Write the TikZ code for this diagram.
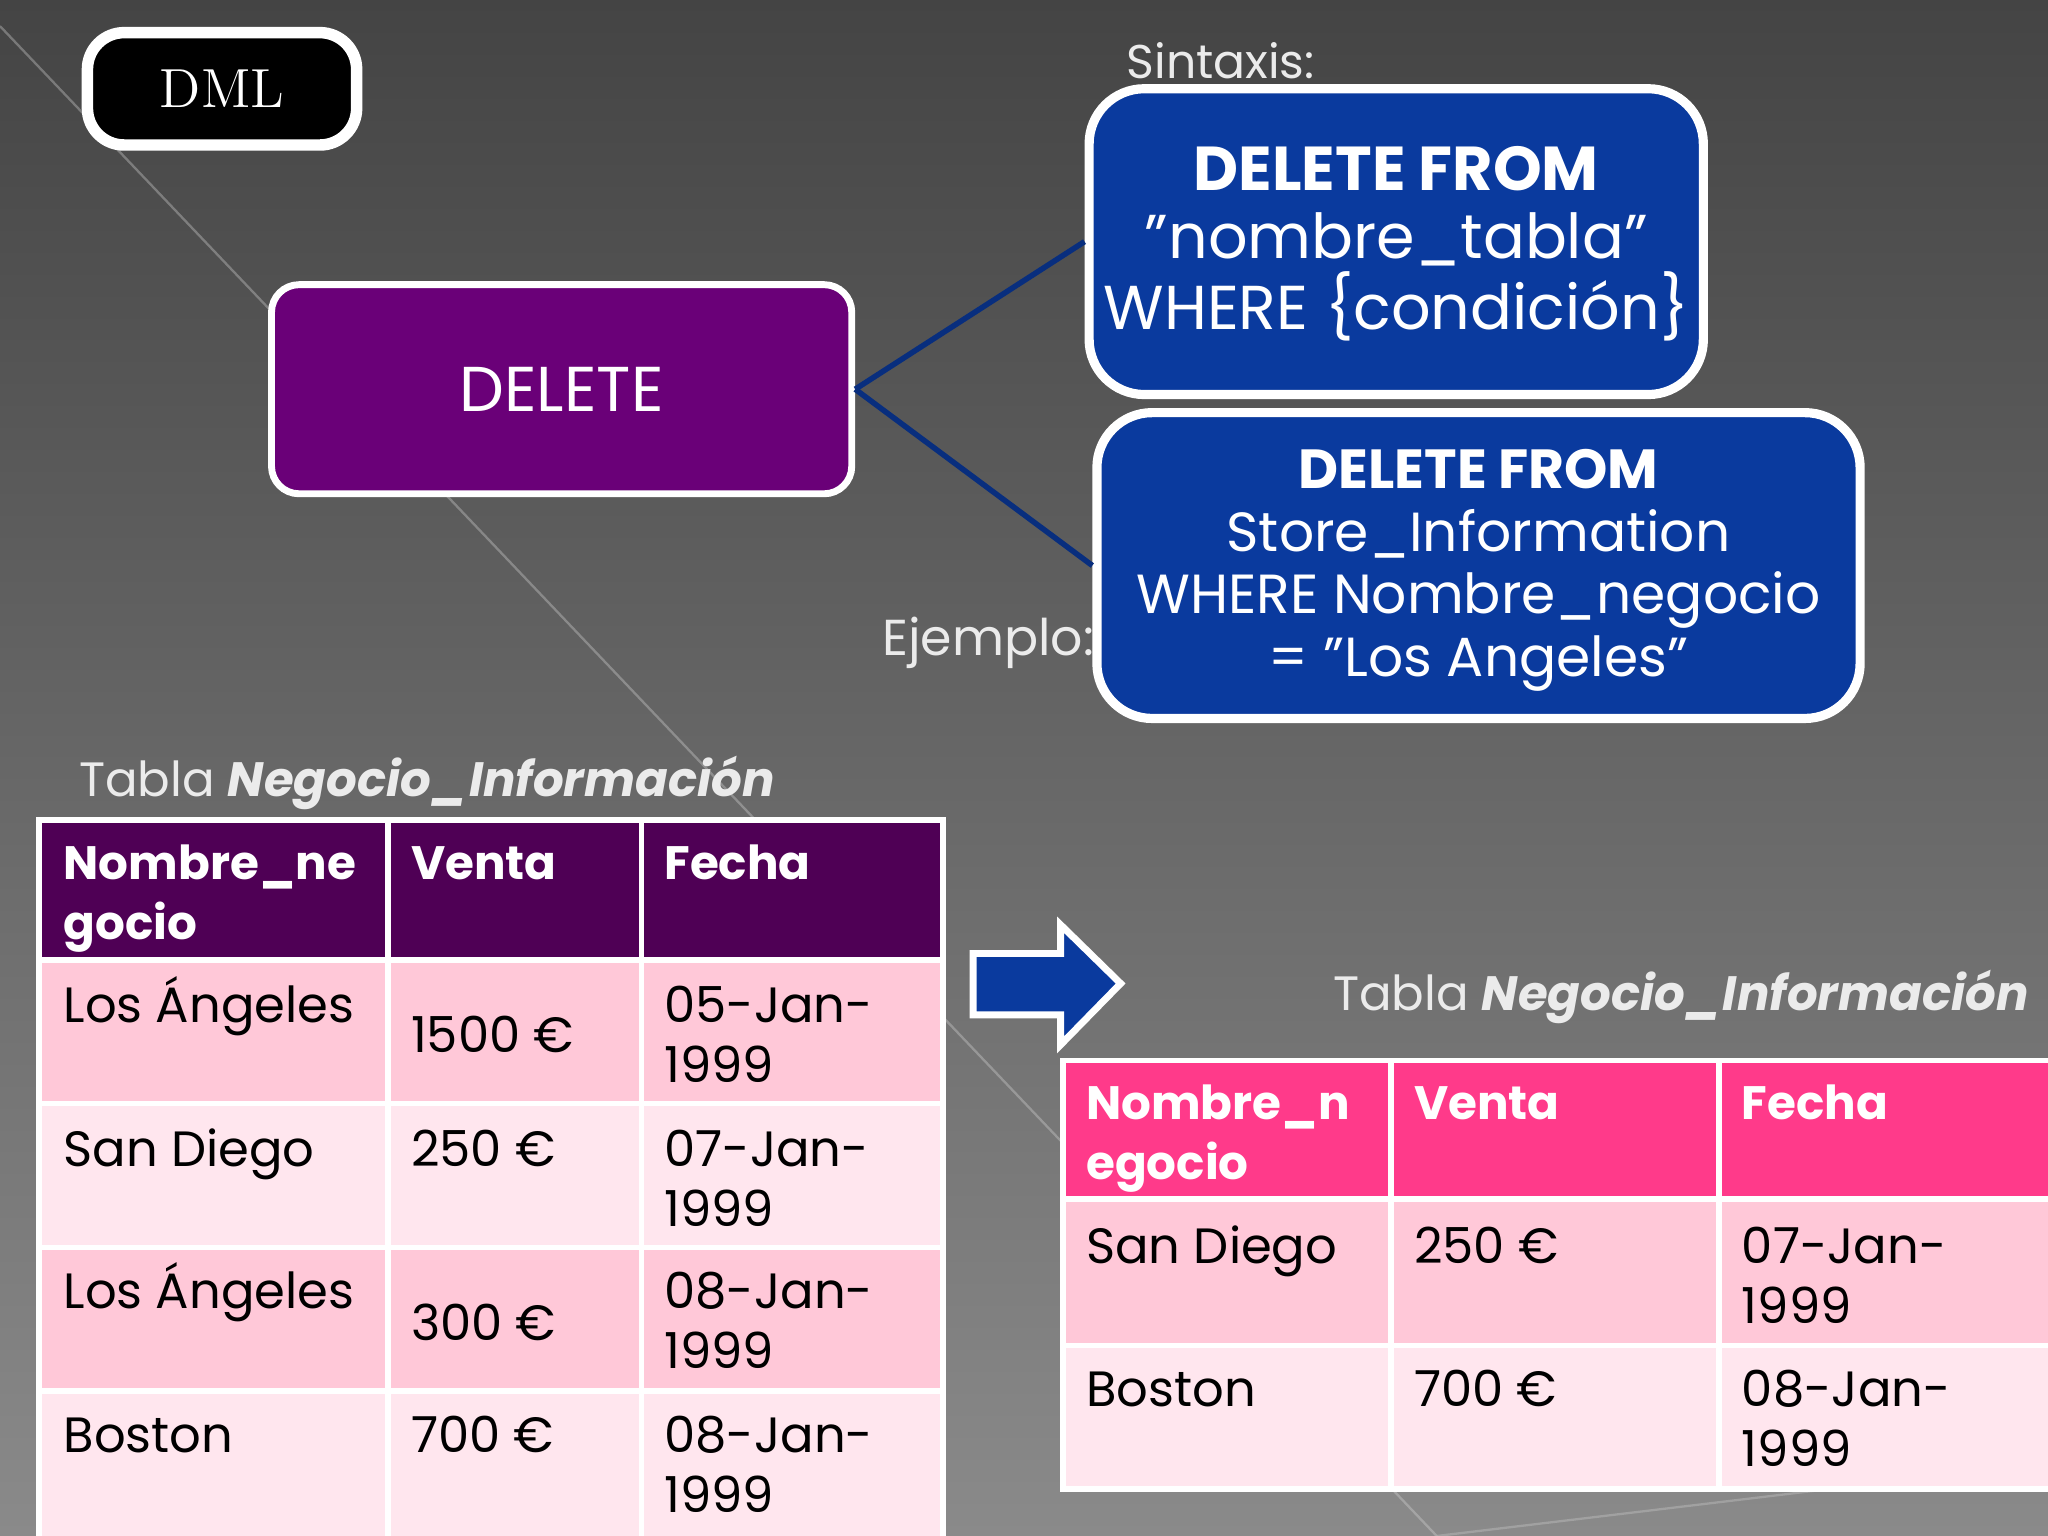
\documentclass[tikz,border=0pt]{standalone}
\usepackage{fontspec}
\setmainfont{Poppins}
\newfontfamily\serifx{Latin Modern Roman}
\definecolor{bgtop}{HTML}{444444}
\definecolor{bgbot}{HTML}{8A8A8A}
\definecolor{purp}{HTML}{6A0078}
\definecolor{dblue}{HTML}{0A3A9E}
\definecolor{hdrL}{HTML}{4F0055}
\definecolor{hdrR}{HTML}{FF3A8A}
\definecolor{rowA}{HTML}{FFC8D8}
\definecolor{rowB}{HTML}{FFE6EE}
\newcommand\qq{\symbol{34}}
\begin{document}
\begin{tikzpicture}[x=0.01cm,y=-0.01cm,
  ct/.style={font=\fontsize{10.8}{13}\selectfont,anchor=base west,inner sep=0pt,text=black},
  ch/.style={ct,text=white,font=\fontsize{10.2}{13}\selectfont\bfseries},
  bt/.style={anchor=base,inner sep=0pt,text=white},
  lbl/.style={font=\fontsize{10.5}{13}\selectfont,anchor=base west,inner sep=0pt,text=white!92!black},
  cellb/.style={draw=white,line width=1.2pt}]
\useasboundingbox (0,0) rectangle (1568,1176);
\shade[top color=bgtop,bottom color=bgbot] (0,0) rectangle (1568,1176);
\draw[white!70!gray,line width=0.5pt,opacity=0.35] (0,20) -- (1100,1176);
\draw[white!70!gray,line width=0.5pt,opacity=0.3] (1568,1120) -- (1100,1176);
% DML
\node[draw=white,line width=2.5pt,fill=black,rounded corners=8pt,minimum width=2.06cm,minimum height=0.86cm,text=white,font=\serifx\fontsize{12}{14}\selectfont] (dml) at (170,68) {DML};
% DELETE
\node[draw=white,line width=1.5pt,fill=purp,rounded corners=6pt,minimum width=4.44cm,minimum height=1.6cm,text=white,font=\fontsize{13.8}{16}\selectfont] (del) at (430,298) {DELETE};
% boxes
\node[draw=white,line width=2pt,fill=dblue,rounded corners=12pt,minimum width=4.7cm,minimum height=2.34cm] (syn) at (1069,185) {};
\node[bt,font=\fontsize{13.5}{16}\selectfont\bfseries] (s1) at (1069,146) {DELETE FROM};
\node[bt,font=\fontsize{13.5}{16}\selectfont] (s2) at (1069,198) {\qq nombre\_tabla\qq};
\node[bt,font=\fontsize{13.5}{16}\selectfont] (s3) at (1069,252) {WHERE \{condición\}};
\node[lbl,font=\fontsize{10.3}{13}\selectfont] (sx) at (862,60) {Sintaxis:};
\node[draw=white,line width=2pt,fill=dblue,rounded corners=12pt,minimum width=5.84cm,minimum height=2.34cm] (ex) at (1132,433) {};
\node[bt,font=\fontsize{12}{14}\selectfont\bfseries] (e1) at (1132,374) {DELETE FROM};
\node[bt,font=\fontsize{12}{14}\selectfont] (e2) at (1132,422) {Store\_Information};
\node[bt,font=\fontsize{12}{14}\selectfont] (e3) at (1132,470) {WHERE Nombre\_negocio};
\node[bt,font=\fontsize{12}{14}\selectfont] (e4) at (1132,518) {= \qq Los Angeles\qq};
\node[lbl,font=\fontsize{11}{13}\selectfont] (ej) at (675,502) {Ejemplo:};
\draw[dblue!80!black,line width=1.2pt] (del.east) -- (syn.west);
\draw[dblue!80!black,line width=1.2pt] (del.east) -- (ex.west);
% left table
\node[lbl] (tl) at (60,610) {Tabla \textbf{\itshape Negocio\_Información}};
\fill[hdrL] (30,628) rectangle (722,735);
\fill[rowA] (30,735) rectangle (722,845);
\fill[rowB] (30,845) rectangle (722,955);
\fill[rowA] (30,955) rectangle (722,1065);
\fill[rowB] (30,1065) rectangle (722,1176);
\foreach \y in {735,845,955,1065} \draw[cellb] (30,\y) -- (722,\y);
\foreach \x in {297,491} \draw[cellb] (\x,628) -- (\x,1176);
\draw[cellb] (30,628) rectangle (722,1180);
\node[ch] (h1) at (48,673) {Nombre\_ne};
\node[ch] (h1b) at (48,719) {gocio};
\node[ch] (h2) at (314,673) {Venta};
\node[ch] (h3) at (508,673) {Fecha};
\node[ct] (a1) at (48,783) {Los Ángeles};
\node[ct] (a2) at (314,806) {1500 €};
\node[ct] (a3) at (508,783) {05-Jan-};
\node[ct] (a3b) at (508,829) {1999};
\node[ct] (b1) at (48,893) {San Diego};
\node[ct] (b2) at (314,893) {250 €};
\node[ct] (b3) at (508,893) {07-Jan-};
\node[ct] (b3b) at (508,939) {1999};
\node[ct] (c1) at (48,1002) {Los Ángeles};
\node[ct] (c2) at (314,1026) {300 €};
\node[ct] (c3) at (508,1002) {08-Jan-};
\node[ct] (c3b) at (508,1048) {1999};
\node[ct] (d1) at (48,1112) {Boston};
\node[ct] (d2) at (314,1112) {700 €};
\node[ct] (d3) at (508,1112) {08-Jan-};
\node[ct] (d3b) at (508,1158) {1999};
% arrow
\draw[white,line width=1.5pt,fill=dblue] (745,730) -- (812,730) -- (812,708) -- (858,753) -- (812,800) -- (812,777) -- (745,777) -- cycle;
% right table
\node[lbl] (tr) at (1020,774) {Tabla \textbf{\itshape Negocio\_Información}};
\fill[hdrR] (814,812) rectangle (1568,918);
\fill[rowA] (814,918) rectangle (1568,1030);
\fill[rowB] (814,1030) rectangle (1568,1140);
\foreach \y in {918,1030} \draw[cellb] (814,\y) -- (1568,\y);
\foreach \x in {1065,1316} \draw[cellb] (\x,812) -- (\x,1140);
\draw[cellb] (814,812) rectangle (1572,1140);
\node[ch] (r1) at (831,857) {Nombre\_n};
\node[ch] (r1b) at (831,903) {egocio};
\node[ch] (r2) at (1082,857) {Venta};
\node[ch] (r3) at (1333,857) {Fecha};
\node[ct] (p1) at (831,967) {San Diego};
\node[ct] (p2) at (1082,967) {250 €};
\node[ct] (p3) at (1333,967) {07-Jan-};
\node[ct] (p3b) at (1333,1013) {1999};
\node[ct] (q1) at (831,1077) {Boston};
\node[ct] (q2) at (1082,1077) {700 €};
\node[ct] (q3) at (1333,1077) {08-Jan-};
\node[ct] (q3b) at (1333,1123) {1999};
\end{tikzpicture}
\end{document}
